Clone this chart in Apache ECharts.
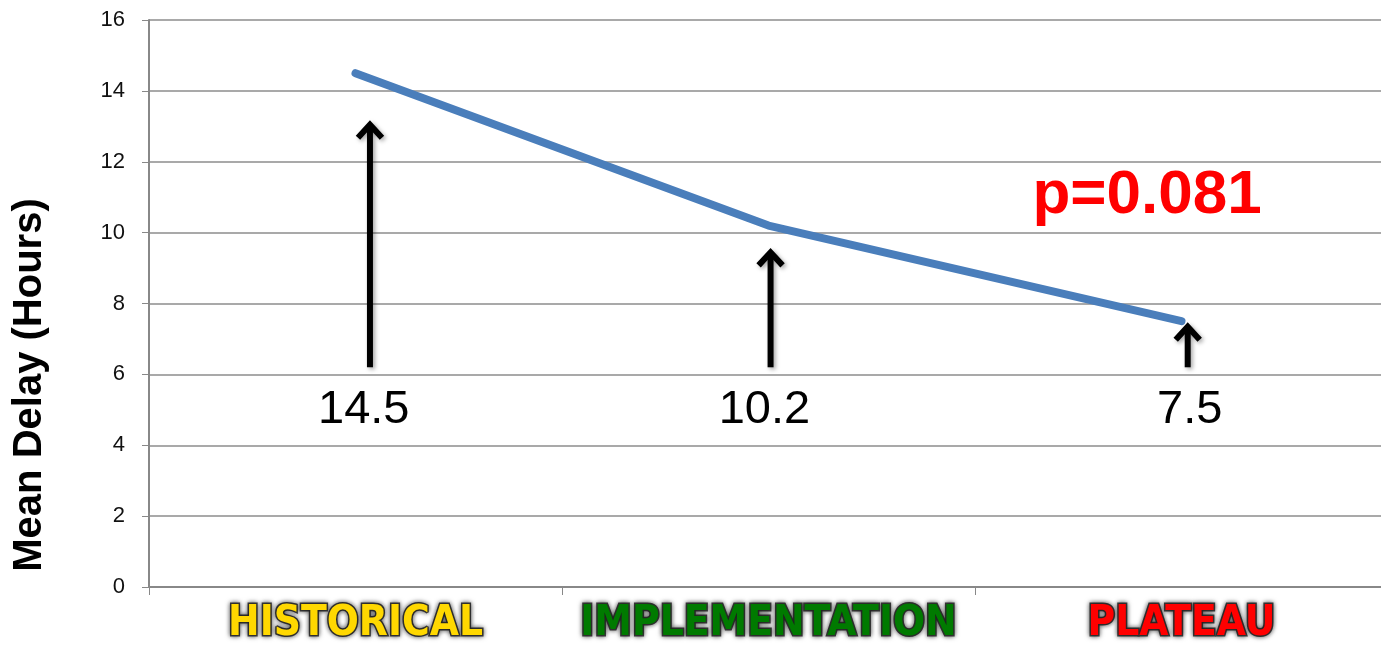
<!DOCTYPE html>
<html>
<head>
<meta charset="utf-8">
<script src="https://cdn.jsdelivr.net/npm/echarts@6/dist/echarts.min.js"></script>
<style>
  html, body { margin: 0; padding: 0; background: #fff; overflow: hidden; }
  #main { width: 1381px; height: 647px; }
</style>
</head>
<body>
<div id="main"></div>
<script>
const categories = ['HISTORICAL', 'IMPLEMENTATION', 'PLATEAU'];
const categoryColors = ['#FFD800', '#007A00', '#FF0000'];
const meanDelay = [14.5, 10.2, 7.5];
// arrows: [x position on 0..3 scale, bottom value, top value]
const arrows = [[0.535, 6.2, 13.1], [1.505, 6.2, 9.5], [2.515, 6.2, 7.4]];
// value labels: [x position, y value, text]
const valueLabels = [[0.52, 5.0, '14.5'], [1.49, 5.0, '10.2'], [2.52, 5.0, '7.5']];
const yTicks = { min: 0, max: 16, interval: 2 };

const chart = echarts.init(document.getElementById('main'));

const richStyles = {};
categories.forEach(function (c, i) {
  richStyles['c' + i] = {
    color: categoryColors[i],
    fontSize: 42,
    fontWeight: 'bold',
    fontFamily: '"Liberation Sans Narrow", "DejaVu Sans Condensed", sans-serif',
    textBorderColor: '#3a3a3a',
    textBorderWidth: 3,
    textShadowColor: 'rgba(0,0,0,0.6)',
    textShadowBlur: 5
  };
});

const option = {
  animation: false,
  grid: { left: 149, width: 1239, top: 20, height: 567, outerBoundsMode: 'none', containLabel: false },
  xAxis: [
    {
      type: 'category',
      data: categories,
      boundaryGap: true,
      axisLine: { lineStyle: { color: '#888', width: 2 } },
      axisTick: { show: true, length: 8, lineStyle: { color: '#888', width: 1 } },
      axisLabel: {
        margin: 16,
        formatter: function (v) {
          return '{c' + categories.indexOf(v) + '|' + v + '}';
        },
        rich: richStyles
      }
    },
    { type: 'value', min: 0, max: 3, show: false }
  ],
  yAxis: {
    type: 'value',
    min: yTicks.min,
    max: yTicks.max,
    interval: yTicks.interval,
    axisLine: { show: true, lineStyle: { color: '#888', width: 2 } },
    axisTick: { show: true, length: 7, lineStyle: { color: '#888' } },
    axisLabel: { fontSize: 22, color: '#111', fontFamily: 'Liberation Sans, Arial, sans-serif', margin: 24 },
    splitLine: { lineStyle: { color: '#8c8c8c', width: 1.5 } }
  },
  graphic: [
    {
      type: 'text',
      x: 30,
      y: 385,
      rotation: Math.PI / 2,
      style: {
        text: 'Mean Delay (Hours)',
        fontSize: 40,
        fontWeight: 'bold',
        fontFamily: 'Liberation Sans, Arial, sans-serif',
        fill: '#000',
        align: 'center',
        verticalAlign: 'middle'
      }
    },
    {
      type: 'text',
      x: 1147,
      y: 196,
      style: {
        text: 'p=0.081',
        fontSize: 62,
        fontWeight: 'bold',
        fontFamily: 'Liberation Sans, Arial, sans-serif',
        fill: '#FF0000',
        align: 'center',
        verticalAlign: 'middle'
      }
    }
  ],
  series: [
    {
      type: 'line',
      data: meanDelay,
      symbol: 'none',
      lineStyle: { color: '#4A7EBB', width: 8, cap: 'round', join: 'round' },
      z: 3
    },
    {
      type: 'custom',
      xAxisIndex: 1,
      data: arrows,
      z: 4,
      renderItem: function (params, api) {
        const bottom = api.coord([api.value(0), api.value(1)]);
        const top = api.coord([api.value(0), api.value(2)]);
        const s = { stroke: '#000', lineWidth: 6, fill: 'none', shadowColor: 'rgba(0,0,0,0.35)', shadowBlur: 4, shadowOffsetX: 2, shadowOffsetY: 2 };
        return {
          type: 'group',
          children: [
            { type: 'line', shape: { x1: bottom[0], y1: bottom[1], x2: top[0], y2: top[1] + 3 }, style: s },
            { type: 'polyline', shape: { points: [[top[0] - 12, top[1] + 15], [top[0], top[1] + 2], [top[0] + 12, top[1] + 15]] }, style: Object.assign({}, s, { lineJoin: 'miter' }) }
          ]
        };
      }
    },
    {
      type: 'scatter',
      xAxisIndex: 1,
      data: valueLabels,
      symbolSize: 0,
      itemStyle: { opacity: 1 },
      label: {
        show: true,
        position: 'inside',
        formatter: function (p) { return p.data[2]; },
        fontSize: 47,
        color: '#000',
        opacity: 1,
        textBorderWidth: 0,
        fontFamily: 'Liberation Sans, Arial, sans-serif'
      }
    }
  ]
};

chart.setOption(option);
</script>
</body>
</html>
